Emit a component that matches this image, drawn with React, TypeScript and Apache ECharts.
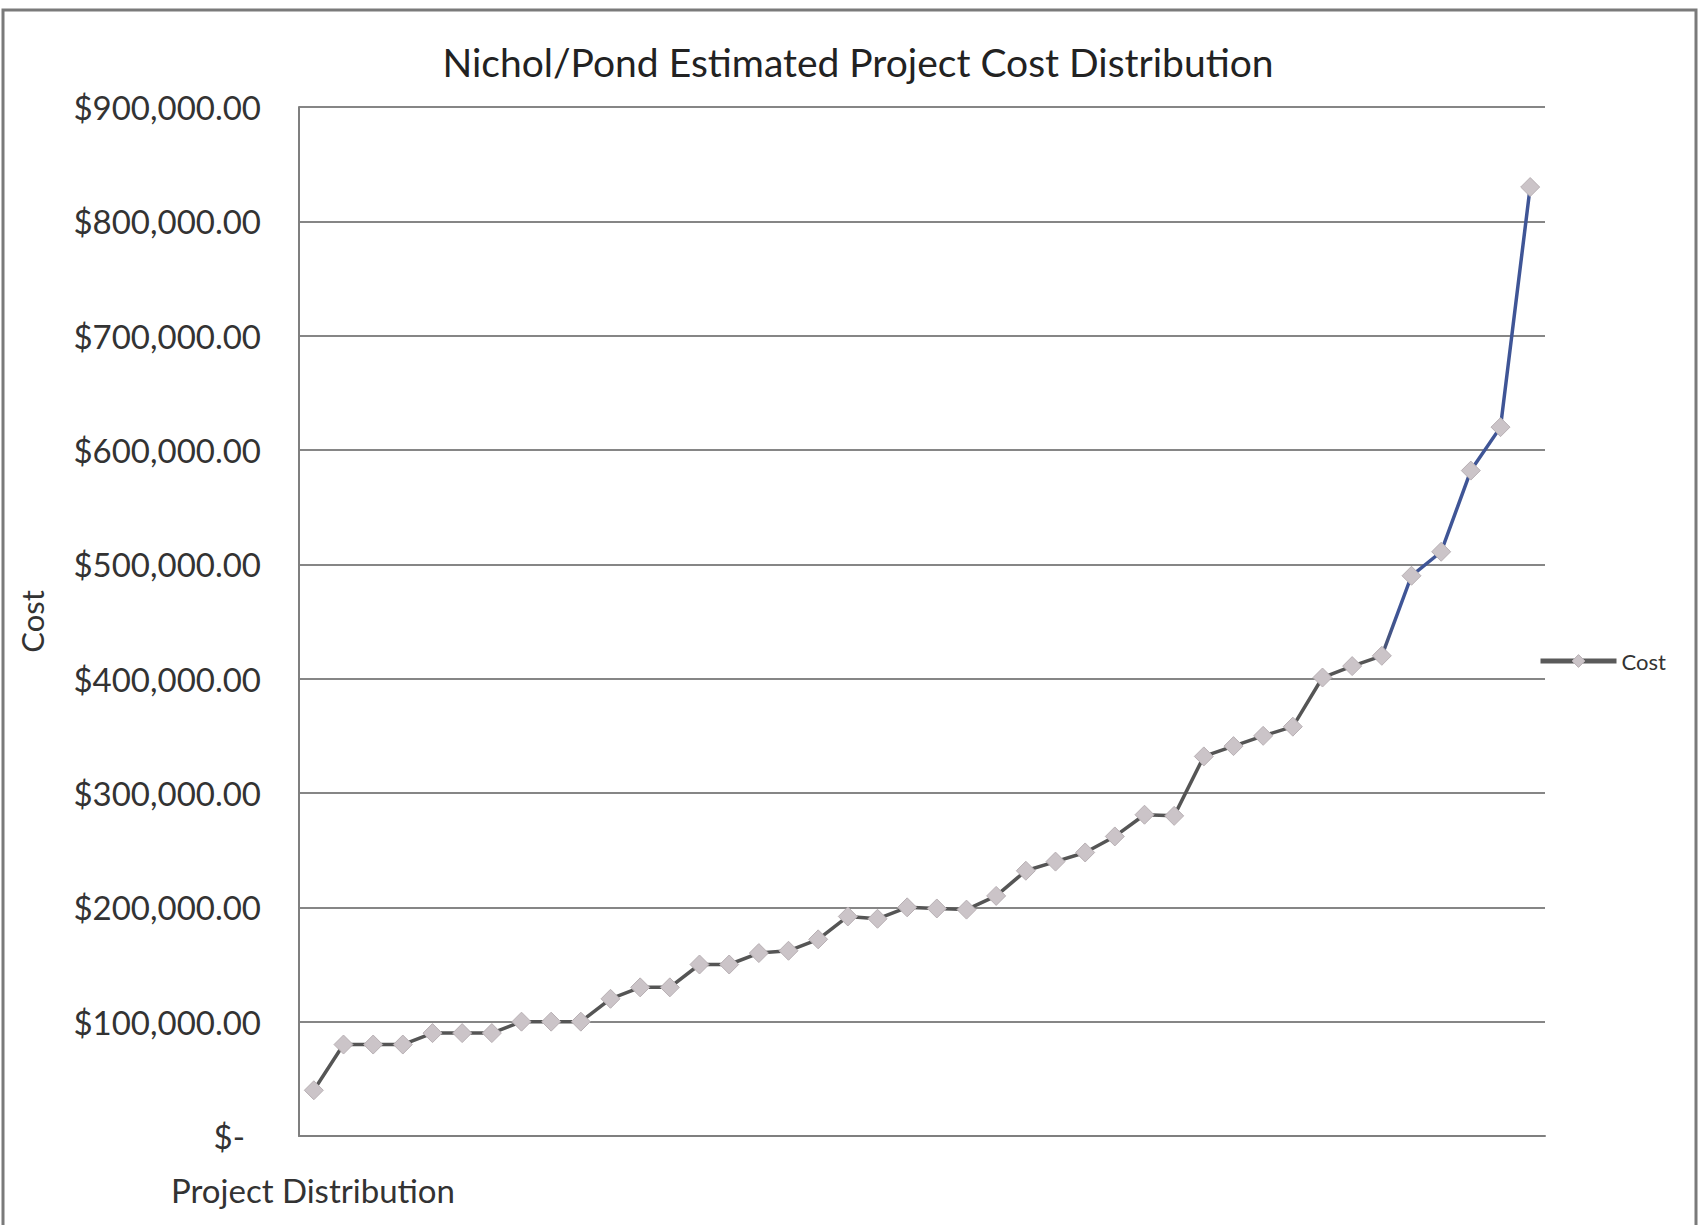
import React, { useEffect, useRef } from "react";
import * as echarts from "echarts";

const TITLE = "Nichol/Pond Estimated Project Cost Distribution";
const SERIES_NAME = "Cost";
const Y_NAME = "Cost";
const X_NAME = "Project Distribution";
const Y_MIN = 0;
const Y_MAX = 900000;
const Y_STEP = 100000;

const costs: number[] = [
  40000, 80000, 80000, 80000, 90000, 90000, 90000, 100000, 100000, 100000,
  120000, 130000, 130000, 150000, 150000, 160000, 162000, 172000, 192000, 190000,
  200000, 199000, 198000, 210000, 232000, 240000, 248000, 262000, 281000, 280000,
  332000, 341000, 350000, 358000, 401000, 411000, 420000, 490000, 511000, 582000,
  620000, 830000,
];
const categories: string[] = costs.map((_, i) => String(i + 1));

const FONT = "Lato, 'Open Sans', sans-serif";

function fmtMoney(v: number): string {
  if (v === 0) return "{z|$-}";
  const s = v.toFixed(2);
  const [intPart, dec] = s.split(".");
  const withCommas = intPart.replace(/\B(?=(\d{3})+(?!\d))/g, ",");
  return "$" + withCommas + "." + dec;
}

export default function App() {
  const ref = useRef<HTMLDivElement>(null);
  useEffect(() => {
    if (!ref.current) return;
    const chart = echarts.init(ref.current, null, { renderer: "svg" });
    const lineGradient = new echarts.graphic.LinearGradient(0, 0, 1, 0, [
      { offset: 0, color: "#555555" },
      { offset: 0.87, color: "#555555" },
      { offset: 0.89, color: "#3f5596" },
      { offset: 1, color: "#3f5596" },
    ]);
    chart.setOption({
      animation: false,
      backgroundColor: "#ffffff",
      title: {
        text: TITLE,
        left: 853,
        top: 37,
        textAlign: "center",
        textStyle: { fontFamily: FONT, fontSize: 39, fontWeight: "normal", color: "#222222" },
      },
      legend: {
        data: [
          {
            name: SERIES_NAME,
            itemStyle: { color: "#cbc4c8", borderColor: "#b8b0b4", borderWidth: 1 },
            lineStyle: { color: "#5a5a5a", width: 5 },
          },
        ],
        left: 1533,
        top: 645,
        itemWidth: 76,
        itemHeight: 16,
        itemGap: 6,
        textStyle: { fontFamily: FONT, fontSize: 22, color: "#333333" },
      },
      graphic: [
        {
          type: "rect",
          shape: { x: 3, y: 10, width: 1693, height: 1250 },
          style: { fill: "none", stroke: "#7a7a7a", lineWidth: 3 },
          silent: true,
          z: 100,
        },
        {
          type: "text",
          left: 171,
          top: 1173,
          style: { text: X_NAME, fontFamily: FONT, fontSize: 33, fill: "#333333" },
        },
      ],
      grid: { left: 299, right: 155, top: 107, bottom: 89, containLabel: false },
      xAxis: {
        type: "category",
        data: categories,
        boundaryGap: true,
        axisLine: { show: true, lineStyle: { color: "#7f7f7f", width: 2 } },
        axisTick: { show: false },
        axisLabel: { show: false },
        splitLine: { show: false },
      },
      yAxis: {
        type: "value",
        min: Y_MIN,
        max: Y_MAX,
        interval: Y_STEP,
        name: Y_NAME,
        nameLocation: "middle",
        nameGap: 252,
        nameRotate: 90,
        nameTextStyle: { fontFamily: FONT, fontSize: 31, color: "#333333" },
        axisLine: { show: true, lineStyle: { color: "#7f7f7f", width: 2 } },
        axisTick: { show: false },
        axisLabel: {
          margin: 38,
          fontFamily: FONT,
          fontSize: 33,
          color: "#333333",
          formatter: (v: number) => fmtMoney(v),
          rich: {
            z: { fontFamily: FONT, fontSize: 33, color: "#333333", padding: [0, 16, 0, 0] },
          },
        },
        splitLine: { show: true, lineStyle: { color: "#868686", width: 2 } },
      },
      series: [
        {
          name: SERIES_NAME,
          type: "line",
          data: costs,
          symbol: "diamond",
          symbolSize: 19,
          lineStyle: { color: lineGradient, width: 3.5 },
          itemStyle: { color: "#cbc4c8", borderColor: "#b8b0b4", borderWidth: 1 },
        },
      ],
    });
    return () => chart.dispose();
  }, []);
  return (
    <div
      ref={ref}
      style={{ position: "absolute", left: 0, top: 0, width: 1700, height: 1225 }}
    />
  );
}
